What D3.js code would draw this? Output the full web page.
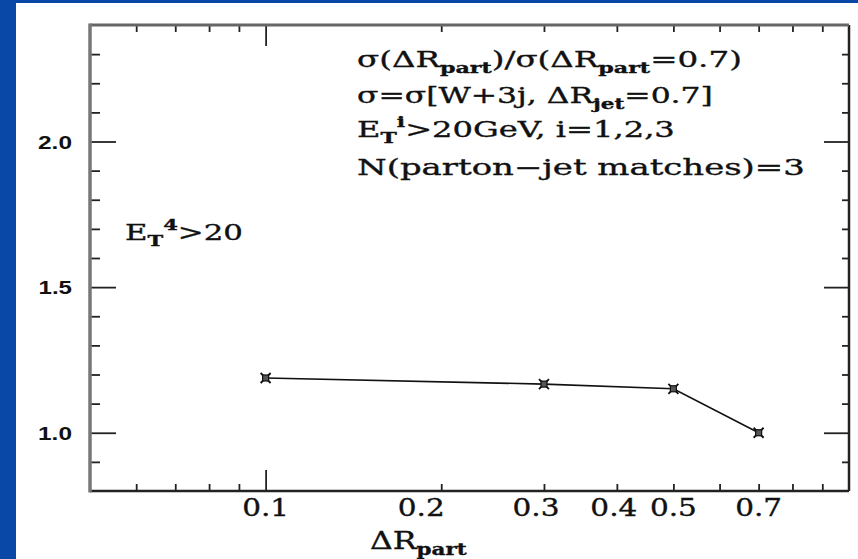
<!DOCTYPE html>
<html>
<head>
<meta charset="utf-8">
<script src="https://cdn.jsdelivr.net/npm/d3@7"></script>
<style>
  body { margin: 0; background: #fff; }
  svg { display: block; }
  .heavy { stroke: #111; stroke-width: 0.35px; }
</style>
</head>
<body>
<div id="chart"></div>
<script>
// data
const dRpart = [0.1, 0.3, 0.5, 0.7];
const ratio = [1.188, 1.167, 1.151, 1.0];

const xMajorTicks = [0.1];
const xMinorTicks = [0.06, 0.07, 0.08, 0.09, 0.2, 0.3, 0.4, 0.5, 0.6, 0.7, 0.8, 0.9];
const xTickLabels = [0.1, 0.2, 0.3, 0.4, 0.5, 0.7];
const yMajorTicks = [1.0, 1.5, 2.0];
const yMinorTicks = [0.9, 1.1, 1.2, 1.3, 1.4, 1.6, 1.7, 1.8, 1.9, 2.1, 2.2, 2.3];
const yTickLabels = ["1.0", "1.5", "2.0"];

const W = 858, H = 559;
const plotL = 90, plotR = 849, plotT = 25, plotB = 491;
const serif = "'DejaVu Serif', 'Liberation Serif', serif";

const svg = d3.select("#chart").append("svg")
    .attr("width", W)
    .attr("height", H);

// slide background bits
svg.append("rect").attr("x", 0).attr("y", 0).attr("width", 16).attr("height", H).attr("fill", "#0a48a8");
svg.append("rect").attr("x", 0).attr("y", 0).attr("width", W).attr("height", 3).attr("fill", "#0a48a8");

const x = d3.scaleLog().domain([0.05, 1]).range([plotL, plotR]);
const y = d3.scaleLinear().domain([0.8, 2.4]).range([plotB, plotT]);

// helper: put a text group and stretch it horizontally to a target width
function fitText(g, tx, ty, targetW, anchor) {
    const w = g.node().getBBox().width;
    const sx = targetW / w;
    g.attr("transform", `translate(${tx},${ty}) scale(${sx},1)`);
    g.selectAll("text").attr("text-anchor", anchor || "start");
}

function ticks(axisFn, scale, values, size, transform) {
    const g = svg.append("g")
        .attr("transform", transform)
        .call(axisFn(scale).tickValues(values).tickSize(size).tickFormat(""));
    g.select(".domain").remove();
    g.selectAll(".tick line").attr("stroke", "#222").attr("stroke-width", 1.8);
    return g;
}

// ticks on all four sides, pointing inward
ticks(d3.axisBottom, x, xMajorTicks, -21, `translate(0,${plotB})`);
ticks(d3.axisBottom, x, xMinorTicks, -7, `translate(0,${plotB})`);
ticks(d3.axisTop, x, xMajorTicks, -21, `translate(0,${plotT})`);
ticks(d3.axisTop, x, xMinorTicks, -7, `translate(0,${plotT})`);
ticks(d3.axisLeft, y, yMajorTicks, -26, `translate(${plotL},0)`);
ticks(d3.axisLeft, y, yMinorTicks, -10, `translate(${plotL},0)`);
ticks(d3.axisRight, y, yMajorTicks, -25, `translate(${plotR},0)`);
ticks(d3.axisRight, y, yMinorTicks, -7, `translate(${plotR},0)`);

// frame
svg.append("line").attr("x1", plotL).attr("x2", plotR).attr("y1", plotB).attr("y2", plotB)
    .attr("stroke", "#222").attr("stroke-width", 2.5);
svg.append("line").attr("x1", plotR).attr("x2", plotR).attr("y1", plotT).attr("y2", plotB)
    .attr("stroke", "#222").attr("stroke-width", 2.5);
svg.append("line").attr("x1", plotL).attr("x2", plotR).attr("y1", plotT).attr("y2", plotT)
    .attr("stroke", "#666").attr("stroke-width", 3);
svg.append("line").attr("x1", plotL).attr("x2", plotL).attr("y1", plotT - 1.5).attr("y2", plotB + 1.5)
    .attr("stroke", "#777").attr("stroke-width", 3.5);

// x tick labels (0.2 and 0.3 sit a bit left of their ticks in the original)
const labelNudge = { 0.2: -20, 0.3: -8, 0.4: -3 };
xTickLabels.forEach(v => {
    const g = svg.append("g");
    g.append("text").text(String(v)).attr("class", "heavy")
        .attr("font-family", serif).attr("font-size", 24).attr("fill", "#111");
    const w = g.node().getBBox().width;
    g.attr("transform", `translate(${x(v) + (labelNudge[v] || 0)},516) scale(${47 / w},1)`);
    g.select("text").attr("text-anchor", "middle");
});

// y tick labels
yTickLabels.forEach(v => {
    const g = svg.append("g");
    g.append("text").text(v)
        .attr("font-family", "'Liberation Sans', Arial, sans-serif")
        .attr("font-weight", "bold").attr("font-size", 19).attr("fill", "#111");
    const w = g.node().getBBox().width;
    g.attr("transform", `translate(72,${y(+v) + 7}) scale(${34 / w},1)`);
    g.select("text").attr("text-anchor", "end");
});

// x axis title
{
    const g = svg.append("g");
    const t = g.append("text").attr("class", "heavy")
        .attr("font-family", serif).attr("font-size", 25).attr("fill", "#111");
    t.append("tspan").text("ΔR");
    t.append("tspan").text("part").attr("font-size", 17).attr("font-weight", "bold").attr("dy", 6);
    fitText(g, 370, 549, 97);
}

// data line
const line = d3.line()
    .x((d, i) => x(dRpart[i]))
    .y(d => y(d));

svg.append("path")
    .datum(ratio)
    .attr("d", line)
    .attr("fill", "none")
    .attr("stroke", "#111")
    .attr("stroke-width", 1.6);

const marks = svg.append("g").selectAll("g")
    .data(ratio)
    .join("g")
    .attr("transform", (d, i) => `translate(${x(dRpart[i])},${y(d)})`);
marks.append("path")
    .attr("d", "M-5,-5L5,5M-5,5L5,-5")
    .attr("stroke", "#111").attr("stroke-width", 1.8);
marks.append("rect")
    .attr("x", -3).attr("y", -3).attr("width", 6).attr("height", 6)
    .attr("fill", "#555").attr("stroke", "#111").attr("stroke-width", 1.2);

// annotation block
function annot(parts, baseline, targetW, tx) {
    const g = svg.append("g");
    const t = g.append("text").attr("class", "heavy")
        .attr("font-family", serif).attr("font-size", 22).attr("fill", "#111");
    parts.forEach(p => {
        const s = t.append("tspan").text(p.t);
        if (p.sub) s.attr("font-size", 15).attr("font-weight", "bold");
        if (p.dy) s.attr("dy", p.dy);
    });
    fitText(g, tx, baseline, targetW);
}

annot([
    { t: "σ(ΔR" }, { t: "part", sub: true, dy: 6 }, { t: ")/σ(ΔR", dy: -6 },
    { t: "part", sub: true, dy: 6 }, { t: "=0.7)", dy: -6 }
], 67, 385, 357);

annot([
    { t: "σ=σ[W+3j, ΔR" }, { t: "jet", sub: true, dy: 6 }, { t: "=0.7]", dy: -6 }
], 103, 356, 357);

annot([
    { t: "E" }, { t: "T", sub: true, dy: 6 }, { t: "i", sub: true, dy: -16 },
    { t: ">20GeV, i=1,2,3", dy: 10 }
], 137, 318, 357);

annot([
    { t: "N(parton−jet matches)=3" }
], 175, 448, 357);

annot([
    { t: "E" }, { t: "T", sub: true, dy: 6 }, { t: "4", sub: true, dy: -16 },
    { t: ">20", dy: 10 }
], 240, 118, 125);
</script>
</body>
</html>
